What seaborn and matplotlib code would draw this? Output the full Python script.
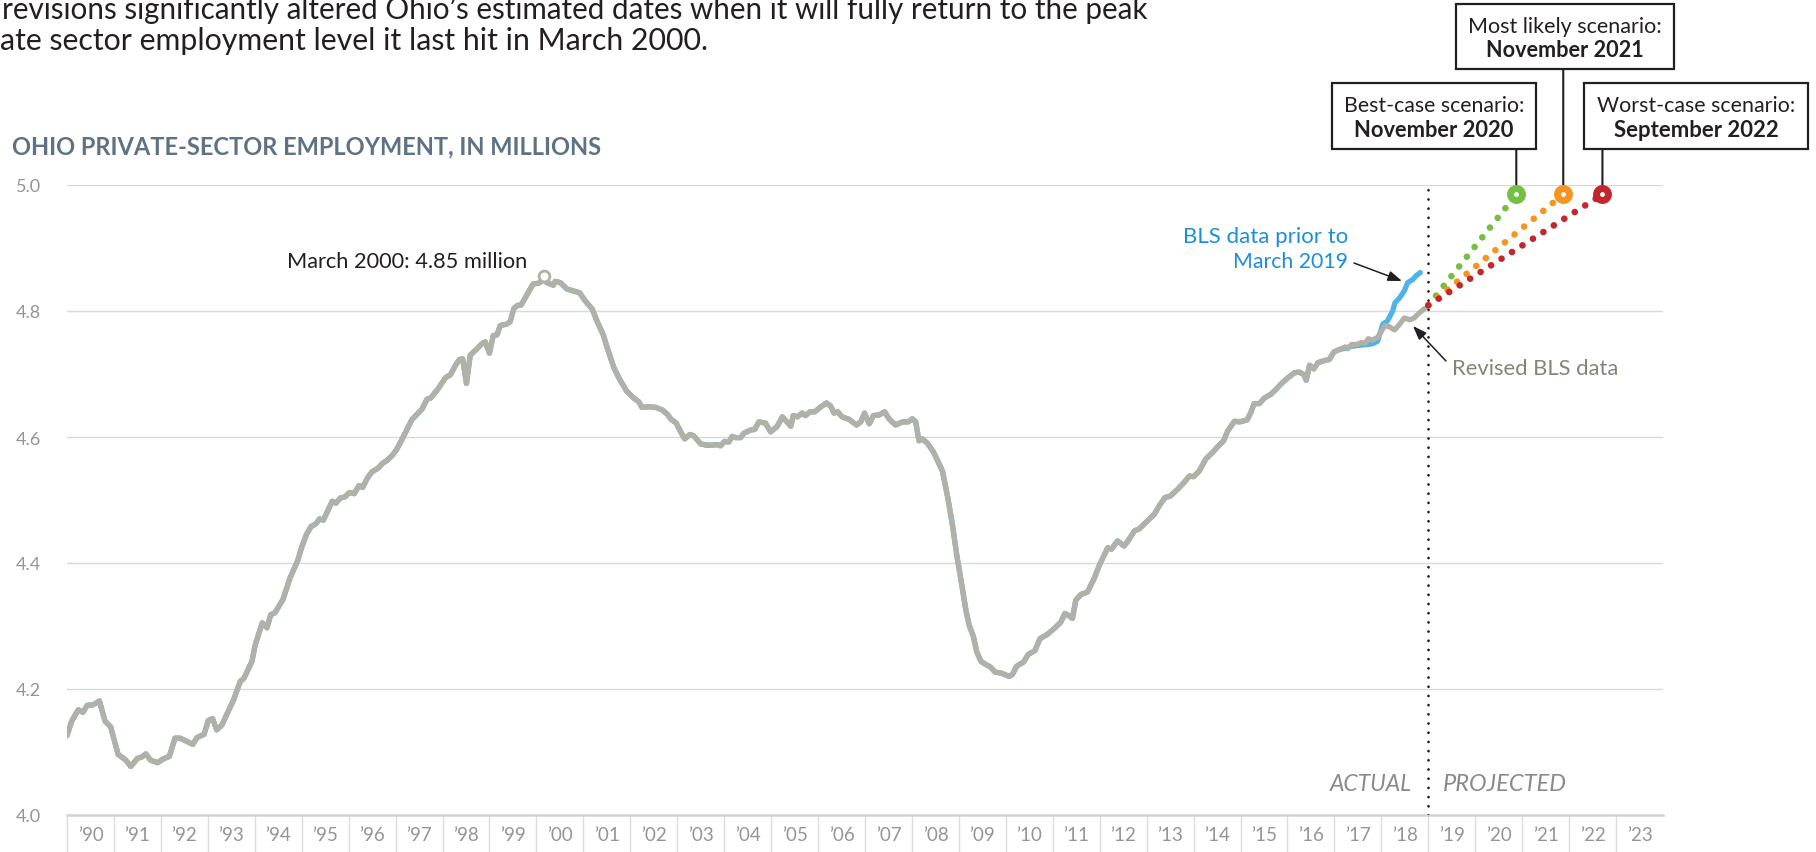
import numpy as np
import pandas as pd
import matplotlib
matplotlib.use("Agg")
import matplotlib.pyplot as plt
from matplotlib.patches import Rectangle
import seaborn as sns

# ---------------- data (decimal year, millions) ----------------
early_90s = [(1990.00, 4.126), (1990.10, 4.149), (1990.24, 4.167), (1990.34, 4.163), (1990.43, 4.174),
             (1990.56, 4.175), (1990.69, 4.181), (1990.81, 4.149), (1990.93, 4.140), (1991.09, 4.096),
             (1991.24, 4.088), (1991.36, 4.077), (1991.50, 4.090), (1991.59, 4.092), (1991.68, 4.097),
             (1991.78, 4.087), (1991.93, 4.083), (1992.05, 4.089), (1992.18, 4.093), (1992.30, 4.122),
             (1992.41, 4.122), (1992.55, 4.117), (1992.68, 4.112), (1992.77, 4.123), (1992.92, 4.128),
             (1993.01, 4.150), (1993.10, 4.153), (1993.19, 4.135), (1993.30, 4.143), (1993.40, 4.159),
             (1993.55, 4.183), (1993.69, 4.212), (1993.77, 4.217), (1993.94, 4.244), (1994.01, 4.270),
             (1994.16, 4.305), (1994.26, 4.297), (1994.34, 4.318), (1994.43, 4.321), (1994.60, 4.342),
             (1994.75, 4.376), (1994.91, 4.403)]
late_90s = [(1995.00, 4.425), (1995.10, 4.445), (1995.20, 4.458), (1995.30, 4.462), (1995.38, 4.470),
            (1995.46, 4.468), (1995.55, 4.482), (1995.65, 4.498), (1995.73, 4.495), (1995.82, 4.503),
            (1995.92, 4.505), (1996.02, 4.512), (1996.12, 4.510), (1996.22, 4.523), (1996.30, 4.520),
            (1996.40, 4.535), (1996.50, 4.545), (1996.62, 4.550), (1996.72, 4.558), (1996.82, 4.563),
            (1996.92, 4.570), (1997.02, 4.580), (1997.10, 4.591), (1997.21, 4.607), (1997.35, 4.628),
            (1997.56, 4.644), (1997.67, 4.660), (1997.75, 4.662), (1997.92, 4.678), (1998.06, 4.694),
            (1998.17, 4.699), (1998.27, 4.713), (1998.36, 4.723), (1998.43, 4.724), (1998.51, 4.685),
            (1998.59, 4.730), (1998.72, 4.739), (1998.84, 4.748), (1998.91, 4.751), (1999.00, 4.733),
            (1999.08, 4.761), (1999.16, 4.762), (1999.23, 4.777), (1999.36, 4.779), (1999.44, 4.783),
            (1999.52, 4.804), (1999.60, 4.809), (1999.67, 4.809), (1999.80, 4.826), (1999.93, 4.843)]
y2000s = [(2000.04, 4.844), (2000.17, 4.850), (2000.22, 4.845), (2000.36, 4.841), (2000.40, 4.847),
          (2000.51, 4.845), (2000.65, 4.835), (2000.78, 4.832), (2000.92, 4.829), (2001.04, 4.816),
          (2001.19, 4.803), (2001.29, 4.784), (2001.42, 4.763), (2001.52, 4.739), (2001.65, 4.710),
          (2001.77, 4.692), (2001.92, 4.673), (2002.07, 4.662), (2002.18, 4.656), (2002.25, 4.647),
          (2002.40, 4.648), (2002.54, 4.647), (2002.68, 4.643), (2002.79, 4.636), (2002.87, 4.628),
          (2002.98, 4.622), (2003.06, 4.610), (2003.16, 4.597), (2003.27, 4.604), (2003.35, 4.602),
          (2003.50, 4.589), (2003.63, 4.587), (2003.75, 4.587), (2003.85, 4.588), (2003.92, 4.586),
          (2004.01, 4.593), (2004.10, 4.592), (2004.17, 4.601), (2004.24, 4.599), (2004.35, 4.599),
          (2004.42, 4.606), (2004.56, 4.611), (2004.65, 4.612), (2004.74, 4.624), (2004.88, 4.622),
          (2004.99, 4.608), (2005.13, 4.617), (2005.24, 4.632), (2005.42, 4.617), (2005.47, 4.634),
          (2005.56, 4.632), (2005.66, 4.638), (2005.73, 4.634), (2005.83, 4.640), (2005.93, 4.640),
          (2006.06, 4.648), (2006.18, 4.654), (2006.27, 4.649), (2006.34, 4.638), (2006.42, 4.640),
          (2006.51, 4.632), (2006.66, 4.628), (2006.82, 4.619), (2006.91, 4.624), (2006.99, 4.638),
          (2007.09, 4.621), (2007.18, 4.634), (2007.30, 4.635), (2007.42, 4.640), (2007.51, 4.629),
          (2007.65, 4.619), (2007.80, 4.624), (2007.92, 4.624), (2008.01, 4.629), (2008.08, 4.624),
          (2008.15, 4.594), (2008.22, 4.597), (2008.33, 4.590), (2008.46, 4.576), (2008.56, 4.560),
          (2008.65, 4.546), (2008.76, 4.505), (2008.86, 4.462), (2008.96, 4.410), (2009.04, 4.375),
          (2009.15, 4.325), (2009.22, 4.301), (2009.31, 4.283), (2009.38, 4.259), (2009.47, 4.244),
          (2009.57, 4.239), (2009.67, 4.235), (2009.77, 4.227), (2009.91, 4.225)]
y2010s = [(2010.07, 4.220), (2010.14, 4.223), (2010.23, 4.236), (2010.38, 4.243), (2010.48, 4.255),
          (2010.62, 4.261), (2010.73, 4.280), (2010.89, 4.287), (2011.03, 4.296), (2011.17, 4.306),
          (2011.26, 4.320), (2011.33, 4.317), (2011.42, 4.312), (2011.49, 4.341), (2011.60, 4.350),
          (2011.74, 4.354), (2011.88, 4.375), (2011.99, 4.396), (2012.08, 4.410), (2012.17, 4.424),
          (2012.25, 4.422), (2012.38, 4.435), (2012.52, 4.427), (2012.63, 4.438), (2012.74, 4.451),
          (2012.84, 4.454), (2012.99, 4.465), (2013.16, 4.477), (2013.27, 4.491), (2013.39, 4.504),
          (2013.50, 4.506), (2013.66, 4.517), (2013.80, 4.528), (2013.91, 4.538), (2014.00, 4.537),
          (2014.12, 4.546), (2014.26, 4.565), (2014.41, 4.576), (2014.53, 4.586), (2014.64, 4.594),
          (2014.73, 4.610), (2014.87, 4.625), (2014.98, 4.624), (2015.14, 4.627), (2015.22, 4.639),
          (2015.29, 4.653), (2015.40, 4.653), (2015.51, 4.662), (2015.65, 4.668), (2015.76, 4.676),
          (2015.86, 4.684), (2016.01, 4.694), (2016.15, 4.702), (2016.25, 4.703), (2016.35, 4.699),
          (2016.40, 4.690), (2016.47, 4.714), (2016.56, 4.708), (2016.65, 4.718), (2016.77, 4.721),
          (2016.89, 4.723), (2016.99, 4.735), (2017.11, 4.739), (2017.23, 4.743), (2017.28, 4.740),
          (2017.37, 4.747), (2017.48, 4.747), (2017.58, 4.750), (2017.66, 4.749), (2017.72, 4.756),
          (2017.81, 4.754), (2017.92, 4.758), (2018.00, 4.768), (2018.08, 4.777), (2018.17, 4.775),
          (2018.28, 4.770), (2018.39, 4.779), (2018.49, 4.789), (2018.60, 4.786), (2018.70, 4.789),
          (2018.81, 4.797), (2018.92, 4.804)]
# prior (pre-revision) BLS data where it differs from revised series
prior_tail = [(2017.23, 4.741), (2017.37, 4.744), (2017.48, 4.745), (2017.58, 4.746), (2017.72, 4.747),
              (2017.81, 4.748), (2017.92, 4.752), (2018.03, 4.779), (2018.13, 4.784), (2018.24, 4.800),
              (2018.29, 4.813), (2018.39, 4.821), (2018.49, 4.832), (2018.56, 4.845), (2018.67, 4.850),
              (2018.74, 4.856), (2018.83, 4.861)]

peak_point = (2000.17, 4.855)
proj_start = (2019.0, 4.809)
scen_names = ["Best-case scenario:", "Most likely scenario:", "Worst-case scenario:"]
scen_dates = ["November 2020", "November 2021", "September 2022"]
scen_x = [2020.875, 2021.875, 2022.71]
scen_y = [4.985, 4.985, 4.985]
scen_colors = ["#75bf43", "#f7941d", "#c1272d"]

year_ticks = list(range(1990, 2024))
y_ticks = [4.0, 4.2, 4.4, 4.6, 4.8, 5.0]

# ---------------- frames ----------------
revised = pd.DataFrame(early_90s + late_90s + y2000s + y2010s, columns=["year", "emp"])
prior = pd.concat([revised[revised.year < prior_tail[0][0]],
                   pd.DataFrame(prior_tail, columns=["year", "emp"])], ignore_index=True)

# ---------------- figure ----------------
W, H = 1816, 853
sns.set_theme(style="white")
plt.rcParams["font.family"] = ["Lato", "DejaVu Sans"]
fig = plt.figure(figsize=(W / 100, H / 100), dpi=100)
fig.patch.set_facecolor("white")
ax = fig.add_axes([67 / W, (H - 816) / H, 1596 / W, 630 / H])
ax.set_xlim(1990, 2024)
ax.set_ylim(4.0, 5.0)
for s in ["top", "right", "left"]:
    ax.spines[s].set_visible(False)
ax.spines["bottom"].set_color("#d2d2d2")
ax.spines["bottom"].set_linewidth(1.8)
ax.yaxis.grid(True, color="#d9d9d9", lw=1.0)
ax.xaxis.grid(False)
ax.set_axisbelow(True)

ax.set_yticks(y_ticks)
ax.set_yticklabels([f"{v:.1f}" for v in y_ticks])
ax.set_xticks([y + 0.5 for y in year_ticks])
ax.set_xticklabels(["\u2019" + f"{y % 100:02d}" for y in year_ticks])
ax.tick_params(axis="y", length=0, pad=19, labelsize=13, labelcolor="#959595")
ax.tick_params(axis="x", length=0, pad=8, labelsize=13.5, labelcolor="#959595")
ax.vlines(year_ticks, -0.08, 0, transform=ax.get_xaxis_transform(),
          color="#dcdcdc", lw=1.0, clip_on=False)

# lines
sns.lineplot(data=prior, x="year", y="emp", ax=ax, color="#4fb3ea", lw=3.8,
             estimator=None, sort=False, solid_capstyle="round")
sns.lineplot(data=revised, x="year", y="emp", ax=ax, color="#b2b1a6", lw=3.8,
             estimator=None, sort=False, solid_capstyle="round", solid_joinstyle="round")
ax.set_xlabel("")
ax.set_ylabel("")

# actual / projected divider
ax.plot([proj_start[0], proj_start[0]], [4.0, 5.0], color="#231f20", lw=2.0,
        ls=(0, (0.01, 3.3)), dash_capstyle="round", zorder=3)

# projections
for x, y, c in zip(scen_x, scen_y, scen_colors):
    ax.plot([proj_start[0], x], [proj_start[1], y], color=c, lw=4.8,
            ls=(0, (0.01, 1.85)), dash_capstyle="round", zorder=4)
for x, y, c in zip(scen_x, scen_y, scen_colors):
    ax.plot([x], [y], "o", ms=8.6, mew=5.0, mec=c, mfc="white", zorder=6, clip_on=False)

# peak marker
ax.plot([peak_point[0]], [peak_point[1]], "o", ms=7.8, mew=2.0, mec="#b2b1a6", mfc="white", zorder=5)

# ---------------- text helpers ----------------
renderer = fig.canvas.get_renderer()
DARK = "#231f20"


def place(s, x, y, width, ha="left", **kw):
    t = fig.text(x / W, 1 - y / H, s, ha=ha, va="baseline", fontsize=20, **kw)
    w = t.get_window_extent(renderer=renderer).width
    t.set_fontsize(20 * width / w)
    return t


# header
place("revisions significantly altered Ohio\u2019s estimated dates when it will fully return to the peak",
      2, 19, 1150, color=DARK)
place("ate sector employment level it last hit in March 2000.", 0, 50, 709, color=DARK)
place("OHIO PRIVATE-SECTOR EMPLOYMENT, IN MILLIONS", 12, 154, 590, color="#5e7185", fontweight="bold")

# annotations
place("March 2000: 4.85 million", 287, 268, 241, color=DARK)
place("BLS data prior to", 1348, 243, 165, ha="right", color="#1d8fd8")
place("March 2019", 1348, 268, 115, ha="right", color="#1d8fd8")
place("Revised BLS data", 1452, 375, 166, color="#858574")
place("ACTUAL", 1412, 791, 82, ha="right", color="#8a8a8a", fontstyle="italic")
place("PROJECTED", 1443, 791, 124, color="#8a8a8a", fontstyle="italic")

arrow = dict(arrowstyle="-|>,head_length=0.6,head_width=0.22", color=DARK, lw=1.1,
             shrinkA=0, shrinkB=0, mutation_scale=14)
ax.annotate("", xy=(1402, H - 282), xytext=(1354, H - 264), xycoords="figure pixels",
            textcoords="figure pixels", arrowprops=arrow)
ax.annotate("", xy=(1413, H - 327), xytext=(1446, H - 362), xycoords="figure pixels",
            textcoords="figure pixels", arrowprops=arrow)

# scenario boxes
boxes = [(1332, 84, 1536, 150, 112, 137, 180, 159),
         (1456, 5, 1674, 70, 33, 57, 193, 157),
         (1584, 84, 1808, 150, 112, 137, 198, 165)]
for (x0, y0, x1, y1, b1, b2, w1, w2), name, date, x, y in zip(boxes, scen_names, scen_dates, scen_x, scen_y):
    fig.add_artist(Rectangle((x0 / W, 1 - y1 / H), (x1 - x0) / W, (y1 - y0) / H,
                             transform=fig.transFigure, facecolor="white", edgecolor=DARK, lw=1.6))
    cx = (x0 + x1) / 2
    place(name, cx, b1, w1, ha="center", color=DARK)
    place(date, cx, b2, w2, ha="center", color=DARK, fontweight="bold")
    ax.annotate("", xy=(x, y), xytext=(x, 1 - y1 / H), xycoords="data",
                textcoords=("data", "figure fraction"),
                arrowprops=dict(arrowstyle="-", color=DARK, lw=1.5, shrinkA=0, shrinkB=6.5))

fig.savefig("out.png", dpi=100, facecolor="white")
